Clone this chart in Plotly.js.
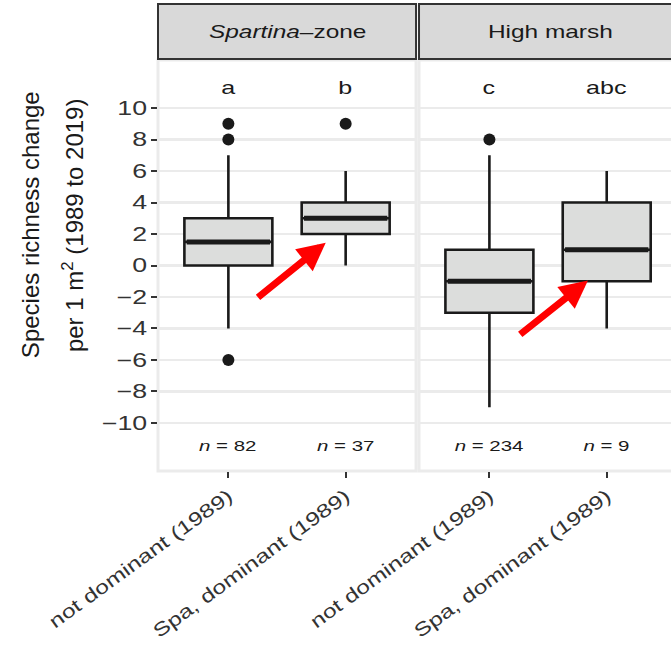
<!DOCTYPE html>
<html><head><meta charset="utf-8">
<script src="https://cdn.plot.ly/plotly-3.0.1.min.js"></script>
<style>body{margin:0;background:#fff}#chart{width:671px;height:649px}</style>
</head><body><div id="chart"></div>
<script>
// Data
const zones = ["<i>Spartina</i>\u2013zone", "High marsh"];
const groups = ["not dominant (1989)", "Spa, dominant (1989)"];
// per zone: [not dominant, Spa dominant]
const q1 = [[0, 2], [-3, -1]];
const med = [[1.5, 3], [-1, 1]];
const q3 = [[3, 4], [1, 4]];
const lowW = [[-4, 0], [-9, -4]];
const highW = [[7, 6], [7, 6]];
const outliers = [[[9, 8, -6], [9]], [[8], []]];
const letters = [["a", "b"], ["c", "abc"]];
const nObs = [[82, 37], [234, 9]];
const yTitleLines = ["Species richness change", "per 1 m<sup>2</sup> (1989 to 2019)"];
// arrows (tail -> head) in data coords per zone
const arrowTail = [[1.24, -2.1], [1.25, -4.45]];
const arrowHead = [[1.83, 1.45], [1.84, -0.95]];

const font = "Liberation Sans, Arial, Helvetica, sans-serif";
const xs = ["x", "x2"];
const traces = [];
const annotations = [];
const shapes = [];
const bw = 0.75;

zones.forEach((z, zi) => {
  groups.forEach((g, gi) => {
    const pos = gi + 1;
    traces.push({
      type: "box", xaxis: xs[zi], yaxis: "y",
      x: [pos], q1: [q1[zi][gi]], median: [med[zi][gi]], q3: [q3[zi][gi]],
      lowerfence: [lowW[zi][gi]], upperfence: [highW[zi][gi]],
      width: bw, whiskerwidth: 0,
      fillcolor: "#dcdddc", line: {color: "#1a1a1a", width: 2.6},
      boxpoints: false, showlegend: false, hoverinfo: "skip"
    });
    traces.push({
      type: "scatter", mode: "lines", xaxis: xs[zi], yaxis: "y",
      x: [pos - bw / 2 + 0.02, pos + bw / 2 - 0.02], y: [med[zi][gi], med[zi][gi]],
      line: {color: "#1a1a1a", width: 5}, showlegend: false, hoverinfo: "skip"
    });
    if (outliers[zi][gi].length) {
      traces.push({
        type: "scatter", mode: "markers", xaxis: xs[zi], yaxis: "y",
        x: outliers[zi][gi].map(() => pos), y: outliers[zi][gi],
        marker: {color: "#1a1a1a", size: 12}, showlegend: false, hoverinfo: "skip"
      });
    }
    annotations.push({
      xref: xs[zi], yref: "y", x: pos, y: 11.3, text: letters[zi][gi],
      showarrow: false, font: {family: font, size: 19, color: "#1a1a1a"}
    });
    annotations.push({
      xref: xs[zi], yref: "y", x: pos, y: -11.45, text: "<i>n</i> = " + nObs[zi][gi],
      showarrow: false, font: {family: font, size: 15.5, color: "#1a1a1a"}
    });
  });
  annotations.push({
    xref: xs[zi], yref: "y", axref: xs[zi], ayref: "y",
    x: arrowHead[zi][0], y: arrowHead[zi][1], ax: arrowTail[zi][0], ay: arrowTail[zi][1],
    showarrow: true, arrowhead: 2, arrowsize: 0.8, arrowwidth: 7, arrowcolor: "#ff0000", text: ""
  });
  const dom = zi === 0 ? "x domain" : "x2 domain";
  shapes.push({type: "rect", xref: dom, yref: "paper", x0: 0, x1: zi === 0 ? 1 : 1.05, y0: 1.0025, y1: 1.136,
    fillcolor: "#d9d9d9", line: {color: "#333333", width: 2}, layer: "above"});
  annotations.push({xref: dom, yref: "paper", x: zi === 0 ? 0.5 : 0.52, y: 1.069, text: z, showarrow: false,
    font: {family: font, size: 18.5, color: "#1a1a1a"}, yanchor: "middle", xanchor: "center"});
  shapes.push({type: "rect", xref: dom, yref: "y domain", x0: 0, x1: zi === 0 ? 1 : 1.05, y0: 0, y1: 1,
    line: {color: "#ebebeb", width: 3}, layer: "below"});
});

// y title as two rotated lines
yTitleLines.forEach((t, i) => {
  annotations.push({xref: "paper", yref: "paper", x: [-0.2485, -0.1667][i], y: 0.5995, text: t,
    xanchor: "center", yanchor: "middle",
    textangle: -90, showarrow: false, font: {family: font, size: 24, color: "#1a1a1a"}});
});

const tickv = [-10, -8, -6, -4, -2, 0, 2, 4, 6, 8, 10];
const xax = {tickvals: [1, 2], ticktext: groups,
  tickangle: -36, ticks: "outside", ticklen: 6, tickwidth: 2, tickcolor: "#333",
  tickfont: {family: font, size: 19, color: "#333"}, showgrid: false, zeroline: false, showline: false, fixedrange: true};
const layout = {
  width: 671, height: 649,
  margin: {l: 158, r: 0, t: 60, b: 178},
  paper_bgcolor: "#fff", plot_bgcolor: "#fff",
  showlegend: false,
  xaxis: Object.assign({domain: [0, 0.503], range: [0.4, 2.6]}, xax),
  xaxis2: Object.assign({domain: [0.5088, 1], range: [0.4, 2.548], anchor: "y"}, xax),
  yaxis: {range: [-13.05, 13.05], tickvals: tickv, ticktext: tickv.map(v => v < 0 ? "\u2212" + Math.abs(v) : String(v)),
    ticks: "outside", ticklen: 6, tickwidth: 2, tickcolor: "#333",
    tickfont: {family: font, size: 19.5, color: "#333"},
    showgrid: true, gridcolor: "#ebebeb", gridwidth: 2.5, zeroline: false, showline: false},
  shapes: shapes,
  annotations: annotations
};
Plotly.newPlot("chart", traces, layout, {displayModeBar: false, staticPlot: true}).then(gd => {
  // the reference renders its horizontal text with wide glyphs: widen text along its baseline
  const widen = (nodes, f) => nodes.forEach(t => {
    const L = t.getComputedTextLength();
    if (L > 0) { t.setAttribute("textLength", L * f); t.setAttribute("lengthAdjust", "spacingAndGlyphs"); }
  });
  widen(gd.querySelectorAll(".xtick text, .x2tick text"), 1.3);
  widen(gd.querySelectorAll(".ytick text"), 1.37);
  gd.querySelectorAll(".annotation").forEach(a => {
    const idx = +a.getAttribute("data-index");
    const ann = gd.layout.annotations[idx];
    if (ann && ann.textangle !== -90) widen(a.querySelectorAll(".annotation-text"), 1.32);
  });
});
</script></body></html>
